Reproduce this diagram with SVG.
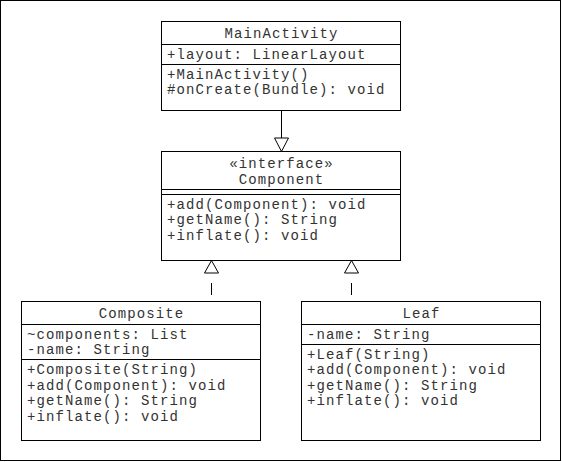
<svg xmlns="http://www.w3.org/2000/svg" width="562" height="462" viewBox="0 0 562 462">
  <style>
    .box { fill: #fff; stroke: #000; stroke-width: 1; }
    .sep { stroke: #000; stroke-width: 1; }
    text { font-family: "Liberation Mono", "Courier New", monospace; font-size: 14px; letter-spacing: 1.1px; fill: #333; }
    .title { text-anchor: middle; }
    .edge { stroke: #000; stroke-width: 1; fill: none; }
    .dash { stroke-dasharray: 12 16; stroke-dashoffset: 22; }
    .head { fill: #fff; stroke: #000; stroke-width: 1; }
  </style>

  <rect x="0.5" y="0.5" width="560" height="460" fill="#fff" stroke="#000"/>

  <!-- connectors -->
  <g id="connectors">
    <!-- MainActivity generalizes Component -->
    <line class="edge" x1="281.5" y1="110.5" x2="281.5" y2="138"/>
    <polygon class="head" points="274.5,138 288.5,138 281.5,151.5"/>
    <!-- Composite realizes Component -->
    <line class="edge dash" x1="211.5" y1="301" x2="211.5" y2="273"/>
    <polygon class="head" points="204.5,273 218.5,273 211.5,260.5"/>
    <!-- Leaf realizes Component -->
    <line class="edge dash" x1="351.5" y1="301" x2="351.5" y2="273"/>
    <polygon class="head" points="344.5,273 358.5,273 351.5,260.5"/>
  </g>

  <g id="MainActivity">
    <rect class="box" x="161.5" y="21.5" width="239" height="89"/>
    <line class="sep" x1="161.5" y1="44.5" x2="400.5" y2="44.5"/>
    <line class="sep" x1="161.5" y1="64.5" x2="400.5" y2="64.5"/>
    <text class="title" x="281.5" y="38">MainActivity</text>
    <text x="167" y="58.5">+layout: LinearLayout</text>
    <text x="167" y="78.5">+MainActivity()</text>
    <text x="167" y="94">#onCreate(Bundle): void</text>
  </g>

  <g id="Component">
    <rect class="box" x="161.5" y="151.5" width="239" height="109"/>
    <line class="sep" x1="161.5" y1="189.5" x2="400.5" y2="189.5"/>
    <line class="sep" x1="161.5" y1="194.5" x2="400.5" y2="194.5"/>
    <text class="title" x="281.5" y="168">«interface»</text>
    <text class="title" x="281.5" y="183.5">Component</text>
    <text x="167" y="208.5">+add(Component): void</text>
    <text x="167" y="224">+getName(): String</text>
    <text x="167" y="239.5">+inflate(): void</text>
  </g>

  <g id="Composite">
    <rect class="box" x="21.5" y="301.5" width="239" height="139"/>
    <line class="sep" x1="21.5" y1="324.5" x2="260.5" y2="324.5"/>
    <line class="sep" x1="21.5" y1="359.5" x2="260.5" y2="359.5"/>
    <text class="title" x="141.5" y="318">Composite</text>
    <text x="27" y="338.5">~components: List</text>
    <text x="27" y="354">-name: String</text>
    <text x="27" y="374">+Composite(String)</text>
    <text x="27" y="389.5">+add(Component): void</text>
    <text x="27" y="405">+getName(): String</text>
    <text x="27" y="420.5">+inflate(): void</text>
  </g>

  <g id="Leaf">
    <rect class="box" x="301.5" y="301.5" width="239" height="139"/>
    <line class="sep" x1="301.5" y1="324.5" x2="540.5" y2="324.5"/>
    <line class="sep" x1="301.5" y1="344.5" x2="540.5" y2="344.5"/>
    <text class="title" x="421.5" y="318">Leaf</text>
    <text x="307" y="338.5">-name: String</text>
    <text x="307" y="358.5">+Leaf(String)</text>
    <text x="307" y="374">+add(Component): void</text>
    <text x="307" y="389.5">+getName(): String</text>
    <text x="307" y="405">+inflate(): void</text>
  </g>
</svg>
